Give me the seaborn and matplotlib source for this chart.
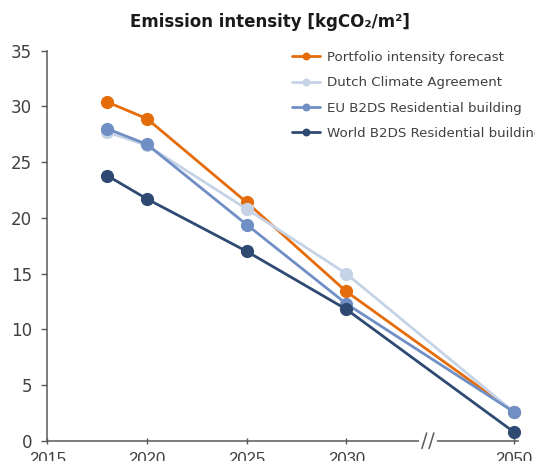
import pandas as pd
import seaborn as sns
import matplotlib.pyplot as plt

years = [2018, 2020, 2025, 2030, 2050]
portfolio = [30.4, 28.9, 21.4, 13.4, 2.6]
dutch = [27.7, 26.5, 20.8, 15.0, 2.6]
eu = [28.0, 26.6, 19.4, 12.3, 2.6]
world = [23.8, 21.7, 17.0, 11.8, 0.8]
series_names = ["Portfolio intensity forecast", "Dutch Climate Agreement",
                "EU B2DS Residential building", "World B2DS Residential building"]
colors = ["#E46C0A", "#C6D3E6", "#6F8FC5", "#2E4A72"]
tick_years = [2015, 2020, 2025, 2030, 2050]

# 2050 sits after an axis break, closer than its real distance
def xpos(y):
    return 2038.4 if y == 2050 else y

rows = []
for name, vals in zip(series_names, [portfolio, dutch, eu, world]):
    for yr, v in zip(years, vals):
        rows.append({"year": yr, "pos": xpos(yr), "value": v, "series": name})
df = pd.DataFrame(rows)

sns.set_style("white")
plt.rcParams['font.family'] = ['DejaVu Sans']

fig = plt.figure(figsize=(5.35, 4.61), dpi=100)
ax = fig.add_axes([0.0884, 0.044, 0.879, 0.846])

sns.lineplot(data=df, x="pos", y="value", hue="series", hue_order=series_names,
             palette=colors, marker="o", markersize=9.5, markeredgewidth=0,
             linewidth=2.0, ax=ax, clip_on=False)

ax.set_xlim(2015, 2038.6)
ax.set_ylim(0, 35)
ax.set_yticks(range(0, 36, 5))
ax.set_xticks([xpos(t) for t in tick_years])
ax.set_xticklabels([str(t) for t in tick_years], fontsize=12, color="#404040",
                   family="Liberation Sans")
ax.tick_params(axis="y", labelsize=12, labelcolor="#404040", length=4, width=1,
               color="#595959", pad=7, left=True)
ax.tick_params(axis="x", length=4.5, width=1, direction="inout", color="#595959",
               pad=6, bottom=True)
ax.set_xlabel("")
ax.set_ylabel("")
for s in ["top", "right"]:
    ax.spines[s].set_visible(False)
for s in ["left", "bottom"]:
    ax.spines[s].set_color("#595959")
    ax.spines[s].set_linewidth(1.1)

# axis break marks
bx = 2034.1
ax.plot([bx - 0.35, bx + 0.35], [0, 0], color="white", lw=3,
        transform=ax.get_xaxis_transform(), clip_on=False, zorder=5)
for dx in (-0.18, 0.18):
    ax.plot([bx + dx - 0.12, bx + dx + 0.12], [-0.02, 0.02], color="#595959",
            lw=1.1, transform=ax.get_xaxis_transform(), clip_on=False, zorder=6)

fig.suptitle("Emission intensity [kgCO₂/m²]", x=0.505, y=0.972,
             fontsize=12, fontweight="bold", color="#1a1a1a")

ax.legend(loc="upper left", bbox_to_anchor=(292 / 535, 1 - 51 / 461),
          bbox_transform=fig.transFigure, frameon=False, fontsize=9.6,
          handlelength=2.1, handletextpad=0.5, labelspacing=0.92,
          markerscale=0.6, borderpad=0, borderaxespad=0, labelcolor="#404040")

fig.savefig("out.png", dpi=100)
